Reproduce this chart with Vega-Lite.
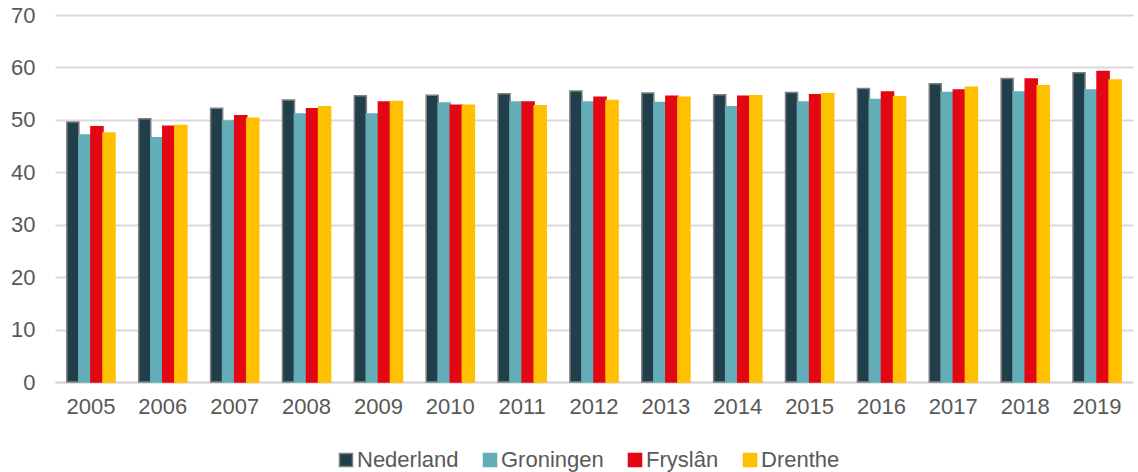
{
  "$schema": "https://vega.github.io/schema/vega-lite/v6.json",
  "width": 1078,
  "height": 367,
  "autosize": {"type": "none"},
  "padding": {"left": 55, "top": 15, "right": 5, "bottom": 90},
  "background": "white",
  "config": {
    "font": "Liberation Sans",
    "view": {"stroke": null},
    "axis": {"labelFont": "Liberation Sans", "labelColor": "#595959", "labelFontSize": 22}
  },
  "data": {
    "values": [
      {"jaar": "2005", "regio": "Nederland", "waarde": 49.6},
      {"jaar": "2005", "regio": "Groningen", "waarde": 47.1},
      {"jaar": "2005", "regio": "Fryslân", "waarde": 48.7},
      {"jaar": "2005", "regio": "Drenthe", "waarde": 47.5},
      {"jaar": "2006", "regio": "Nederland", "waarde": 50.2},
      {"jaar": "2006", "regio": "Groningen", "waarde": 46.6},
      {"jaar": "2006", "regio": "Fryslân", "waarde": 48.8},
      {"jaar": "2006", "regio": "Drenthe", "waarde": 48.9},
      {"jaar": "2007", "regio": "Nederland", "waarde": 52.2},
      {"jaar": "2007", "regio": "Groningen", "waarde": 49.8},
      {"jaar": "2007", "regio": "Fryslân", "waarde": 50.8},
      {"jaar": "2007", "regio": "Drenthe", "waarde": 50.3},
      {"jaar": "2008", "regio": "Nederland", "waarde": 53.8},
      {"jaar": "2008", "regio": "Groningen", "waarde": 51.1},
      {"jaar": "2008", "regio": "Fryslân", "waarde": 52.1},
      {"jaar": "2008", "regio": "Drenthe", "waarde": 52.5},
      {"jaar": "2009", "regio": "Nederland", "waarde": 54.6},
      {"jaar": "2009", "regio": "Groningen", "waarde": 51.1},
      {"jaar": "2009", "regio": "Fryslân", "waarde": 53.4},
      {"jaar": "2009", "regio": "Drenthe", "waarde": 53.5},
      {"jaar": "2010", "regio": "Nederland", "waarde": 54.7},
      {"jaar": "2010", "regio": "Groningen", "waarde": 53.2},
      {"jaar": "2010", "regio": "Fryslân", "waarde": 52.8},
      {"jaar": "2010", "regio": "Drenthe", "waarde": 52.8},
      {"jaar": "2011", "regio": "Nederland", "waarde": 55.0},
      {"jaar": "2011", "regio": "Groningen", "waarde": 53.4},
      {"jaar": "2011", "regio": "Fryslân", "waarde": 53.4},
      {"jaar": "2011", "regio": "Drenthe", "waarde": 52.7},
      {"jaar": "2012", "regio": "Nederland", "waarde": 55.5},
      {"jaar": "2012", "regio": "Groningen", "waarde": 53.4},
      {"jaar": "2012", "regio": "Fryslân", "waarde": 54.3},
      {"jaar": "2012", "regio": "Drenthe", "waarde": 53.7},
      {"jaar": "2013", "regio": "Nederland", "waarde": 55.1},
      {"jaar": "2013", "regio": "Groningen", "waarde": 53.3},
      {"jaar": "2013", "regio": "Fryslân", "waarde": 54.5},
      {"jaar": "2013", "regio": "Drenthe", "waarde": 54.3},
      {"jaar": "2014", "regio": "Nederland", "waarde": 54.8},
      {"jaar": "2014", "regio": "Groningen", "waarde": 52.5},
      {"jaar": "2014", "regio": "Fryslân", "waarde": 54.5},
      {"jaar": "2014", "regio": "Drenthe", "waarde": 54.6},
      {"jaar": "2015", "regio": "Nederland", "waarde": 55.2},
      {"jaar": "2015", "regio": "Groningen", "waarde": 53.4},
      {"jaar": "2015", "regio": "Fryslân", "waarde": 54.8},
      {"jaar": "2015", "regio": "Drenthe", "waarde": 55.0},
      {"jaar": "2016", "regio": "Nederland", "waarde": 56.0},
      {"jaar": "2016", "regio": "Groningen", "waarde": 53.9},
      {"jaar": "2016", "regio": "Fryslân", "waarde": 55.3},
      {"jaar": "2016", "regio": "Drenthe", "waarde": 54.4},
      {"jaar": "2017", "regio": "Nederland", "waarde": 56.9},
      {"jaar": "2017", "regio": "Groningen", "waarde": 55.2},
      {"jaar": "2017", "regio": "Fryslân", "waarde": 55.7},
      {"jaar": "2017", "regio": "Drenthe", "waarde": 56.2},
      {"jaar": "2018", "regio": "Nederland", "waarde": 57.9},
      {"jaar": "2018", "regio": "Groningen", "waarde": 55.3},
      {"jaar": "2018", "regio": "Fryslân", "waarde": 57.8},
      {"jaar": "2018", "regio": "Drenthe", "waarde": 56.5},
      {"jaar": "2019", "regio": "Nederland", "waarde": 59.0},
      {"jaar": "2019", "regio": "Groningen", "waarde": 55.7},
      {"jaar": "2019", "regio": "Fryslân", "waarde": 59.2},
      {"jaar": "2019", "regio": "Drenthe", "waarde": 57.6}
    ]
  },
  "mark": {"type": "bar", "strokeWidth": 1.5},
  "encoding": {
    "x": {
      "field": "jaar",
      "type": "nominal",
      "scale": {"paddingInner": 0.33, "paddingOuter": 0.165},
      "axis": {
        "title": null,
        "labelAngle": 0,
        "ticks": false,
        "labelPadding": 14,
        "domainColor": "#d9d9d9",
        "domainWidth": 2,
        "grid": false
      }
    },
    "xOffset": {
      "field": "regio",
      "type": "nominal",
      "sort": ["Nederland", "Groningen", "Fryslân", "Drenthe"]
    },
    "y": {
      "field": "waarde",
      "type": "quantitative",
      "scale": {"domain": [0, 70], "nice": false},
      "axis": {
        "title": null,
        "values": [0, 10, 20, 30, 40, 50, 60, 70],
        "domain": false,
        "ticks": false,
        "labelPadding": 20,
        "gridColor": "#d9d9d9",
        "gridWidth": 2
      }
    },
    "color": {
      "field": "regio",
      "type": "nominal",
      "sort": ["Nederland", "Groningen", "Fryslân", "Drenthe"],
      "scale": {
        "domain": ["Nederland", "Groningen", "Fryslân", "Drenthe"],
        "range": ["#213F4A", "#62ADB8", "#E30613", "#FFC000"]
      },
      "legend": {
        "title": null,
        "orient": "none",
        "direction": "horizontal",
        "legendX": 280,
        "legendY": 434,
        "symbolType": "square",
        "symbolSize": 170,
        "symbolStrokeWidth": 1.5,
        "labelFontSize": 22,
        "labelFont": "Liberation Sans",
        "labelColor": "#595959",
        "labelOffset": 0,
        "columnPadding": 20
      }
    },
    "stroke": {
      "field": "regio",
      "type": "nominal",
      "sort": ["Nederland", "Groningen", "Fryslân", "Drenthe"],
      "scale": {
        "domain": ["Nederland", "Groningen", "Fryslân", "Drenthe"],
        "range": ["#808080", "#62ADB8", "#E30613", "#FFC000"]
      },
      "legend": null
    }
  }
}
